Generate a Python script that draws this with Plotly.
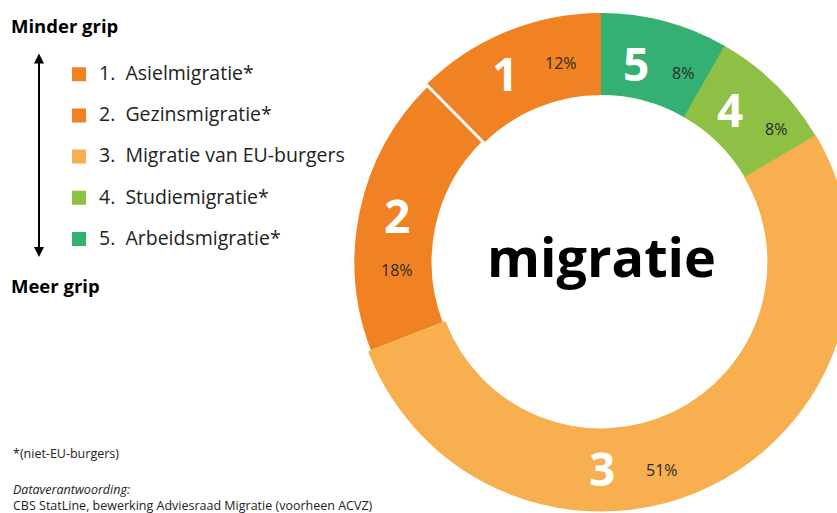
import plotly.graph_objects as go

# ---- data ----
numbers = ["1", "2", "3", "4", "5"]
names = ["Asielmigratie*", "Gezinsmigratie*", "Migratie van EU-burgers",
         "Studiemigratie*", "Arbeidsmigratie*"]
shares = [12, 18, 51, 8, 8]
colors = ["#F08224", "#F08224", "#F7AF4F", "#8DC044", "#35B073"]

# The donut runs past the right edge of the 837px window, so the figure is
# a little wider than the window; positions below are in window pixels.
W, H = 853, 513
FONT = "Open Sans"


def px(x):
    return x / W


def py(y):
    return 1 - y / H


# first slice ends at 12 o'clock when going counter-clockwise
start_rot = -360 * shares[0] / sum(shares)

# donut geometry (window pixels)
CX, CY, R = 601, 262, 248
dom_x = [px(CX - R), px(CX + R)]
dom_y = [py(CY + R), py(CY - R)]
HOLE = 0.677

legend_labels = [
    f"\u00a0<br><span style='font-size:19.5px'>{n}.\u00a0\u00a0{nm}</span>"
    for n, nm in zip(numbers, names)
]

fig = go.Figure()
# base pie: provides the legend
fig.add_trace(go.Pie(
    labels=legend_labels, values=shares, sort=False,
    direction="counterclockwise", rotation=start_rot, hole=HOLE,
    marker=dict(colors=colors, line=dict(color=colors, width=2)),
    textinfo="none", hoverinfo="skip",
    domain=dict(x=dom_x, y=dom_y), showlegend=True,
))
# visible ring with a white separator between the two equal-coloured slices
fig.add_trace(go.Pie(
    labels=legend_labels, values=shares, sort=False,
    direction="counterclockwise", rotation=start_rot, hole=HOLE,
    marker=dict(colors=colors,
                line=dict(color=["rgba(0,0,0,0)", "white", colors[2],
                                 "rgba(0,0,0,0)", "rgba(0,0,0,0)"],
                          width=[0, 3, 3, 0, 0])),
    textinfo="none", hoverinfo="percent",
    domain=dict(x=dom_x, y=dom_y), showlegend=False,
))

annotations = []

# slice labels: big white number + small percentage (window pixels)
num_pos = [(505, 73.5), (397, 214.5), (602, 467.5), (730, 108.5), (636, 63.5)]
pct_pos = [(561, 63.5), (397, 269.5), (662, 470), (776, 128.5), (683, 73)]
for n, s, (nx, ny), (qx, qy) in zip(numbers, shares, num_pos, pct_pos):
    annotations.append(dict(x=px(nx), y=py(ny), xref="paper", yref="paper",
                            text=n, showarrow=False, xanchor="center", yanchor="middle",
                            font=dict(family=FONT, size=46, color="white", weight="bold")))
    annotations.append(dict(x=px(qx), y=py(qy), xref="paper", yref="paper",
                            text=f"{s}%", showarrow=False, xanchor="center", yanchor="middle",
                            font=dict(family=FONT, size=16, color="#2b2b2b")))

# centre text
annotations.append(dict(x=px(601), y=py(256), xref="paper", yref="paper",
                        text="migratie", showarrow=False, xanchor="center", yanchor="middle",
                        font=dict(family=FONT, size=54, color="black", weight="bold")))

# left side texts
annotations.append(dict(x=px(9), y=py(25), xref="paper", yref="paper",
                        text="Minder grip", showarrow=False, xanchor="left", yanchor="middle",
                        font=dict(family=FONT, size=18.5, color="black", weight="bold")))
annotations.append(dict(x=px(9), y=py(285), xref="paper", yref="paper",
                        text="Meer grip", showarrow=False, xanchor="left", yanchor="middle",
                        font=dict(family=FONT, size=18.5, color="black", weight="bold")))
# double-headed arrow
annotations.append(dict(x=px(39), y=py(257), xref="paper", yref="paper",
                        ax=0, ay=-205, text="", showarrow=True,
                        arrowhead=2, startarrowhead=2, arrowside="end+start",
                        arrowwidth=2, arrowsize=1, startarrowsize=1, arrowcolor="black"))

annotations.append(dict(x=px(11), y=py(453), xref="paper", yref="paper",
                        text="*(niet-EU-burgers)", showarrow=False, xanchor="left", yanchor="middle",
                        font=dict(family=FONT, size=12.5, color="#222")))
annotations.append(dict(x=px(11), y=py(489), xref="paper", yref="paper",
                        text="<i>Dataverantwoording:</i>", showarrow=False, xanchor="left",
                        yanchor="middle", font=dict(family=FONT, size=12.5, color="#222")))
annotations.append(dict(x=px(11), y=py(505), xref="paper", yref="paper",
                        text="CBS StatLine, bewerking Adviesraad Migratie (voorheen ACVZ)",
                        showarrow=False, xanchor="left", yanchor="middle",
                        font=dict(family=FONT, size=12.5, color="#222")))

fig.update_layout(
    width=W, height=H,
    margin=dict(l=0, r=0, t=0, b=0),
    paper_bgcolor="white", plot_bgcolor="white",
    font=dict(family=FONT, color="#222"),
    showlegend=True,
    legend=dict(x=px(59), y=py(39), xanchor="left", yanchor="top",
                font=dict(family=FONT, size=14.7, color="#222"),
                valign="bottom", bgcolor="rgba(0,0,0,0)", borderwidth=0,
                traceorder="normal"),
    annotations=annotations,
)

# place the figure at the window's top-left corner (no default body margin)
fig.write_html("out.html",
               config={"displayModeBar": False},
               post_script="document.body.style.margin='0px';"
                           "document.body.style.overflow='hidden';")
